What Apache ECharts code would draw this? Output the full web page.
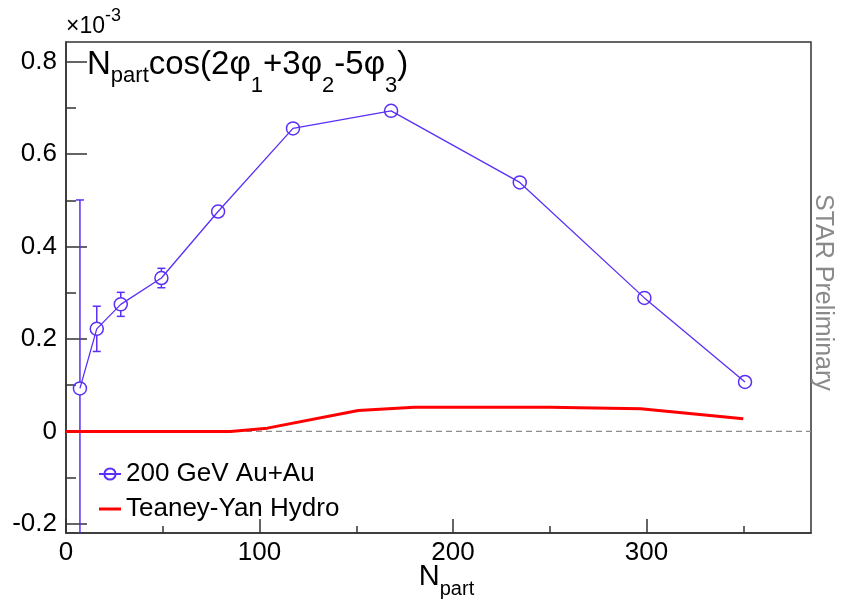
<!DOCTYPE html>
<html>
<head>
<meta charset="utf-8">
<script src="https://cdn.jsdelivr.net/npm/echarts@6/dist/echarts.min.js"></script>
<style>
html,body{margin:0;padding:0;background:#fff;}
#chart{width:845px;height:603px;}
</style>
</head>
<body>
<div id="chart"></div>
<script>
// ---- data (values in units of 10^-3) ----
var npart   = [7.2, 15.9, 28.3, 49.3, 78.6, 117.3, 168.0, 234.5, 298.9, 350.9];
var corr    = [0.093, 0.222, 0.275, 0.332, 0.476, 0.656, 0.694, 0.539, 0.289, 0.107];
var corrErr = [0.408, 0.049, 0.026, 0.021, 0.012, 0.004, 0.004, 0.004, 0.004, 0.004];
var hydroX  = [0, 85, 104, 151, 180, 215, 250, 297, 350];
var hydroY  = [0, 0, 0.007, 0.045, 0.052, 0.052, 0.052, 0.049, 0.0275];
var zeroX   = [0, 385];
var xMajor  = [0, 100, 200, 300];
var xMinor  = [50, 150, 250, 350];
var yMajor  = [-0.2, 0, 0.2, 0.4, 0.6, 0.8];
var yMinor  = [-0.1, 0.1, 0.3, 0.5, 0.7];
var seriesNames = ['200 GeV Au+Au', 'Teaney-Yan Hydro'];

var BLUE = '#5b2ff7', RED = '#ff0000', AXIS = '#333333';
var FONT = 'Liberation Sans, Arial, Helvetica, sans-serif';

var dataPts = npart.map(function (x, i) { return [x, corr[i]]; });
var errPts  = npart.map(function (x, i) { return [x, corr[i], corrErr[i]]; });
var hydroPts = hydroX.map(function (x, i) { return [x, hydroY[i]]; });
var zeroPts = zeroX.map(function (x) { return [x, 0]; });

var chart = echarts.init(document.getElementById('chart'), null, {renderer: 'canvas'});

function xAxisBase(extra) {
  return Object.assign({
    type: 'value', min: 0, max: 385, position: 'bottom', gridIndex: 0,
    splitLine: {show: false}
  }, extra);
}
function yAxisBase(extra) {
  return Object.assign({
    type: 'value', min: -0.22, max: 0.843, position: 'left', gridIndex: 0,
    splitLine: {show: false}
  }, extra);
}

var txt = function (size, extra) {
  return Object.assign({fontSize: size, fontFamily: FONT, fontWeight: 'normal', color: '#000'}, extra);
};

var option = {
  animation: false,
  color: [BLUE, RED],
  textStyle: {fontFamily: FONT},
  title: [{
    left: 87, top: 48, padding: 0,
    text: '{m|N}{sp|part}{m|cos(2φ}{sd|1}{m|+3φ}{sd|2}{m|-5φ}{sd|3}{m|)}',
    textStyle: {
      fontWeight: 'normal',
      rich: {
        m:  txt(33, {lineHeight: 34, verticalAlign: 'top'}),
        sp: txt(22, {lineHeight: 22, padding: [17, 0, 0, 0], verticalAlign: 'top'}),
        sd: txt(22, {lineHeight: 22, padding: [27, 0, 0, 0], verticalAlign: 'top'})
      }
    }
  }, {
    left: 66, top: 7, padding: 0,
    text: '{a|×10}{b|-3}',
    textStyle: {
      fontWeight: 'normal',
      rich: {
        a: txt(23, {lineHeight: 23, padding: [8, 0, 0, 0], verticalAlign: 'top'}),
        b: txt(18, {lineHeight: 18, verticalAlign: 'top'})
      }
    }
  }],
  graphic: [{
    type: 'text', left: 810, top: 194, rotation: -Math.PI / 2,
    style: {text: 'STAR Preliminary', fontSize: 25, fontFamily: FONT, fill: '#8a8a8a'}
  }],
  legend: {
    data: [
      {name: seriesNames[0]},
      {name: seriesNames[1], icon: 'path://M0,0H22V3H0Z'}
    ],
    orient: 'vertical', left: 93, top: 456,
    itemWidth: 22, itemHeight: 14, itemGap: 9,
    symbolKeepAspect: true,
    textStyle: txt(26),
    inactiveColor: '#ccc'
  },
  grid: {
    left: 66, right: 34, top: 42, bottom: 70,
    containLabel: false, outerBoundsMode: 'none',
    show: true, borderColor: AXIS, borderWidth: 1.5, backgroundColor: 'transparent'
  },
  xAxis: [
    xAxisBase({
      axisLine: {show: true, onZero: false, lineStyle: {color: AXIS, width: 1.5}},
      axisTick: {show: true, inside: true, length: 14, customValues: xMajor, lineStyle: {color: AXIS, width: 1.5}},
      axisLabel: {show: true, customValues: xMajor, fontSize: 26, color: '#000', margin: 7, fontFamily: FONT},
      name: '{N|N}{s|part}',
      nameLocation: 'middle', nameGap: 29, nameMoveOverlap: false,
      nameTextStyle: {
        padding: [0, 0, 0, 16],
        rich: {
          N: txt(29, {lineHeight: 30, verticalAlign: 'top'}),
          s: txt(20, {lineHeight: 20, padding: [17, 0, 0, 0], verticalAlign: 'top'})
        }
      }
    }),
    xAxisBase({
      axisLine: {show: false, onZero: false},
      axisTick: {show: true, inside: true, length: 7, customValues: xMinor, lineStyle: {color: AXIS, width: 1.5}},
      axisLabel: {show: false}
    })
  ],
  yAxis: [
    yAxisBase({
      axisLine: {show: true, onZero: false, lineStyle: {color: AXIS, width: 1.5}},
      axisTick: {show: true, inside: true, length: 21, customValues: yMajor, lineStyle: {color: AXIS, width: 1.5}},
      axisLabel: {
        show: true, customValues: yMajor, fontSize: 26, color: '#000', margin: 9, fontFamily: FONT,
        formatter: function (v) { return Math.abs(v) < 1e-9 ? '0' : v.toFixed(1); }
      }
    }),
    yAxisBase({
      axisLine: {show: false, onZero: false},
      axisTick: {show: true, inside: true, length: 10, customValues: yMinor, lineStyle: {color: AXIS, width: 1.5}},
      axisLabel: {show: false}
    })
  ],
  series: [
    {
      name: 'zero', type: 'line', xAxisIndex: 0, yAxisIndex: 0,
      data: zeroPts, symbol: 'none', silent: true,
      lineStyle: {color: '#8c8c8c', width: 1.2, type: [6, 4]}
    },
    {
      name: seriesNames[1], type: 'line', xAxisIndex: 0, yAxisIndex: 0,
      data: hydroPts, symbol: 'none', showSymbol: false,
      lineStyle: {color: RED, width: 3},
      itemStyle: {color: RED}
    },
    {
      name: 'err', type: 'custom', xAxisIndex: 0, yAxisIndex: 0, clip: true,
      data: errPts,
      renderItem: function (params, api) {
        var x = api.value(0), y = api.value(1), e = api.value(2);
        var c = api.coord([x, y]);
        var t = api.coord([x, y + e]);
        var b = api.coord([x, y - e]);
        var r = 6.5, w = 4;
        var st = {stroke: BLUE, lineWidth: 1.5};
        var kids = [];
        if (c[1] - t[1] > r) {
          kids.push({type: 'line', shape: {x1: c[0], y1: c[1] - r, x2: t[0], y2: t[1]}, style: st});
          kids.push({type: 'line', shape: {x1: t[0] - w, y1: t[1], x2: t[0] + w, y2: t[1]}, style: st});
        }
        if (b[1] - c[1] > r) {
          kids.push({type: 'line', shape: {x1: c[0], y1: c[1] + r, x2: b[0], y2: b[1]}, style: st});
          kids.push({type: 'line', shape: {x1: b[0] - w, y1: b[1], x2: b[0] + w, y2: b[1]}, style: st});
        }
        return {type: 'group', children: kids};
      }
    },
    {
      name: seriesNames[0], type: 'line', xAxisIndex: 0, yAxisIndex: 0,
      data: dataPts, symbol: 'circle', symbolSize: 13,
      lineStyle: {color: BLUE, width: 1.3},
      itemStyle: {color: 'rgba(255,255,255,0)', borderColor: BLUE, borderWidth: 1.5},
      z: 3
    }
  ]
};
chart.setOption(option);
</script>
</body>
</html>
